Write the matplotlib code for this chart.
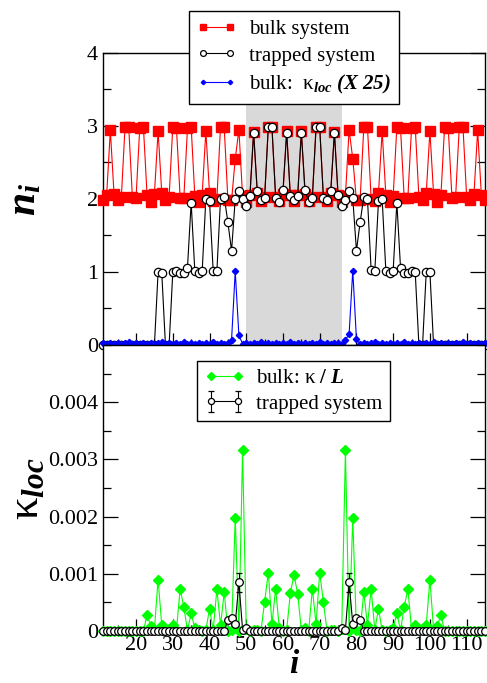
import numpy as np
import matplotlib
matplotlib.use('Agg')
import matplotlib.pyplot as plt
from matplotlib.ticker import MultipleLocator

plt.rcParams['font.family'] = ['Liberation Serif', 'DejaVu Serif']
plt.rcParams['mathtext.fontset'] = 'custom'
plt.rcParams['mathtext.rm'] = 'Liberation Serif'
plt.rcParams['mathtext.it'] = 'Liberation Serif:italic'
plt.rcParams['mathtext.bf'] = 'Liberation Serif:bold'
plt.rcParams['mathtext.bfit'] = 'Liberation Serif:italic:bold'

# site index
sites = np.arange(11, 116)

# top panel: occupation n_i
n_bulk = [1.99, 2.06, 2.94, 2.07, 1.98, 2.03, 2.99, 2.99, 2.03, 2.02,
          2.97, 2.99, 2.05, 1.96, 2.07, 2.93, 2.08, 1.98, 2.03, 2.99,
          2.97, 2.02, 2.01, 2.97, 2.99, 2.04, 1.96, 2.06, 2.93, 2.08,
          1.97, 2.00, 2.99, 2.98, 1.99, 1.98, 2.55, 2.95, 2.04, 1.96,
          2.05, 2.92, 2.08, 1.97, 2.03, 2.99, 2.98, 2.03, 1.97, 2.07,
          2.93, 2.06, 1.97, 2.06, 2.93, 2.07, 1.97, 2.03, 2.98, 2.99,
          2.03, 1.97, 2.08, 2.92, 2.05, 1.96, 2.04, 2.95, 2.55, 1.98,
          1.99, 2.98, 2.99, 2.00, 1.97, 2.08, 2.93, 2.06, 1.96, 2.04,
          2.99, 2.97, 2.01, 2.02, 2.97, 2.99, 2.03, 1.98, 2.08, 2.93,
          2.07, 1.96, 2.05, 2.99, 2.97, 2.02, 2.03, 2.99, 2.99, 2.03,
          1.98, 2.07, 2.94, 2.06, 1.99]
n_trap = [0.0, 0.0, 0.0, 0.0, 0.0, 0.0, 0.0, 0.0, 0.0, 0.0,
          0.0, 0.0, 0.0, 0.0, 0.0, 1.00, 0.99, 0.0, 0.0, 1.00,
          1.01, 0.99, 0.98, 1.06, 1.95, 1.01, 0.99, 1.01, 2.00, 1.97,
          1.01, 1.01, 2.00, 2.03, 1.68, 1.29, 2.00, 2.11, 2.00, 1.91,
          2.04, 2.91, 2.11, 1.98, 2.02, 2.98, 2.98, 2.02, 1.96, 2.12,
          2.91, 2.04, 1.98, 2.04, 2.91, 2.12, 1.96, 2.02, 2.98, 2.98,
          2.02, 1.98, 2.11, 2.91, 2.05, 1.90, 1.99, 2.11, 2.01, 1.29,
          1.68, 2.03, 2.00, 1.03, 1.01, 1.97, 2.00, 1.02, 0.99, 1.02,
          1.95, 1.06, 0.98, 0.99, 1.01, 1.00, 0.0, 0.0, 1.00, 1.00,
          0.0, 0.0, 0.0, 0.0, 0.0, 0.0, 0.0, 0.0, 0.0, 0.0,
          0.0, 0.0, 0.0, 0.0, 0.0]
kloc_x25 = [0.03, 0.02, 0.03, 0.02, 0.03, 0.02, 0.03, 0.04, 0.02, 0.03,
            0.02, 0.03, 0.02, 0.03, 0.02, 0.03, 0.04, 0.02, 0.03, 0.02,
            0.03, 0.02, 0.04, 0.02, 0.03, 0.02, 0.03, 0.02, 0.03, 0.02,
            0.04, 0.02, 0.03, 0.02, 0.03, 0.07, 1.01, 0.13, 0.02, 0.03,
            0.02, 0.03, 0.02, 0.04, 0.02, 0.03, 0.02, 0.03, 0.02, 0.03,
            0.02, 0.04, 0.02, 0.03, 0.02, 0.03, 0.02, 0.03, 0.02, 0.04,
            0.02, 0.03, 0.02, 0.03, 0.03, 0.02, 0.07, 0.15, 1.02, 0.08,
            0.02, 0.03, 0.02, 0.03, 0.04, 0.02, 0.03, 0.02, 0.03, 0.02,
            0.03, 0.02, 0.04, 0.02, 0.03, 0.02, 0.03, 0.02, 0.03, 0.02,
            0.04, 0.02, 0.03, 0.02, 0.03, 0.02, 0.03, 0.02, 0.04, 0.02,
            0.03, 0.02, 0.03, 0.02, 0.03]

# bottom panel: kappa
kappa_bulk = [0.0, 0.0, 0.0, 0.0, 0.0, 0.0, 0.0, 0.0, 0.0, 0.0,
              0.0, 0.0, 0.00028, 0.00009, 0.00003, 0.00090, 0.00010, 0.00002, 0.00001, 0.00010,
              0.00002, 0.00074, 0.00042, 0.00001, 0.00031, 0.00005, 0.00002, 0.0, 0.00001, 0.00039,
              0.00002, 0.00073, 0.00010, 0.00068, 0.0, 0.00001, 0.00198, 0.0, 0.00316, 0.00003,
              0.0, 0.00001, 0.00002, 0.0, 0.00051, 0.00102, 0.00012, 0.00074, 0.00005, 0.0,
              0.00002, 0.00066, 0.00098, 0.00065, 0.00002, 0.00005, 0.0, 0.00074, 0.00012, 0.00102,
              0.00051, 0.0, 0.00002, 0.00001, 0.0, 0.00003, 0.00316, 0.0, 0.00197, 0.00001,
              0.0, 0.00068, 0.00010, 0.00073, 0.00002, 0.00039, 0.00001, 0.0, 0.00002, 0.00005,
              0.00031, 0.00001, 0.00042, 0.00074, 0.00002, 0.00010, 0.00001, 0.00002, 0.00010, 0.00090,
              0.00003, 0.00009, 0.00028, 0.0, 0.0, 0.0, 0.0, 0.0, 0.0, 0.0,
              0.0, 0.0, 0.0, 0.0, 0.0]
kappa_trap = [0.0] * 34 + [0.00020, 0.00022, 0.00012, 0.00085, 0.00002, 0.00005] + [0.0] * 25 \
    + [0.00005, 0.00002, 0.00085, 0.00012, 0.00022, 0.00020] + [0.0] * 34
kappa_trap_err = [0.0] * 37 + [0.00017] + [0.0] * 29 + [0.00017] + [0.0] * 37

fig = plt.figure(figsize=(4.87, 6.83), dpi=100)
ax1 = fig.add_axes([0.2115, 0.4949, 0.7844, 0.4275])
ax2 = fig.add_axes([0.2115, 0.0761, 0.7844, 0.4188])

ax1.axvspan(50, 76, color='#d9d9d9', lw=0, zorder=0)
ax1.plot(sites, n_bulk, '-s', color='red', ms=6.5, lw=0.8, clip_on=False, zorder=3,
         label='bulk system')
ax1.plot(sites, n_trap, '-o', color='black', mfc='white', mec='black', ms=6, mew=0.9,
         lw=0.8, clip_on=False, zorder=4, label='trapped system')
ax1.plot(sites, kloc_x25, '-D', color='blue', ms=3.2, lw=0.8, clip_on=False, zorder=5,
         label=r'bulk:  $\mathrm{\kappa}_{\mathbfit{loc}}$ $\mathbfit{(X\ 25)}$')

ax2.plot(sites, kappa_bulk, '-D', color='#00ff00', ms=5, lw=0.8, clip_on=False, zorder=3,
         label=r'bulk: $\mathrm{\kappa}\ \mathbf{/}\ \mathbfit{L}$')
ax2.errorbar(sites, kappa_trap, yerr=kappa_trap_err, fmt='-o', color='black', mfc='white',
             mec='black', ms=5.5, mew=0.9, lw=0.8, elinewidth=0.8, capsize=2, clip_on=False,
             zorder=4, label='trapped system')

for ax in (ax1, ax2):
    ax.set_xlim(11, 115)
    ax.xaxis.set_major_locator(MultipleLocator(10))
    ax.xaxis.set_minor_locator(MultipleLocator(5))
    ax.tick_params(which='both', direction='in', right=True, top=False, labelsize=16)
    ax.tick_params(axis='y', which='major', length=11, width=0.9)
    ax.tick_params(axis='y', which='minor', length=5.5, width=0.9)
    ax.tick_params(axis='x', which='major', length=8.5, width=0.9)
    ax.tick_params(axis='x', which='minor', length=4.5, width=0.9)
    for s in ax.spines.values():
        s.set_linewidth(1.0)

ax1.set_ylim(0, 4)
ax1.yaxis.set_major_locator(MultipleLocator(1))
ax1.yaxis.set_minor_locator(MultipleLocator(0.5))
ax1.tick_params(axis='x', labelbottom=False)

ax2.set_ylim(0, 0.005)
ax2.set_yticks([0, 0.001, 0.002, 0.003, 0.004])
ax2.set_yticklabels(['0', '0.001', '0.002', '0.003', '0.004'])
ax2.yaxis.set_minor_locator(MultipleLocator(0.0005))
ax2.set_xticks(np.arange(20, 111, 10))

fig.text(0.052, 0.708, r'$\mathbfit{n}_{\mathbfit{i}}$', fontsize=30, rotation=90,
         ha='center', va='center')
fig.text(0.055, 0.285, r'$\mathrm{\kappa}_{\mathbfit{loc}}$', fontsize=32, rotation=90,
         ha='center', va='center')
fig.text(0.605, 0.026, r'$\mathbfit{i}$', fontsize=24, ha='center', va='center')

leg1 = ax1.legend(loc='upper left', bbox_to_anchor=(188.5 / 487, 1 - 11 / 683),
                  bbox_transform=fig.transFigure, fontsize=15, fancybox=False,
                  edgecolor='black', framealpha=1, numpoints=2, handlelength=1.9,
                  handletextpad=0.6, labelspacing=0.35, borderpad=0.4, markerscale=0.7,
                  borderaxespad=0)
leg1.get_frame().set_linewidth(1.0)
leg1.set_zorder(10)

leg2 = ax2.legend(loc='upper left', bbox_to_anchor=(197 / 487, 1 - 361 / 683),
                  bbox_transform=fig.transFigure, fontsize=15, fancybox=False,
                  edgecolor='black', framealpha=1, numpoints=2, handlelength=1.9,
                  handletextpad=0.6, labelspacing=0.3, borderpad=0.35, markerscale=0.8,
                  borderaxespad=0)
leg2.get_frame().set_linewidth(1.0)

fig.savefig('out.png', dpi=100)
